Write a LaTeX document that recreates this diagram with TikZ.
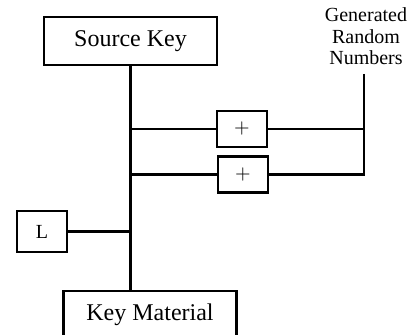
\documentclass[tikz,border=0pt]{standalone}
\usepackage{fontspec}
\setmainfont{Liberation Serif}
\usetikzlibrary{positioning}

\begin{document}
\begin{tikzpicture}[x=0.5pt,y=-0.5pt,
  line width=1.4pt,
  keybox/.style={draw,minimum width=86.5pt,minimum height=24pt,font=\fontsize{12}{14}\selectfont},
  opbox/.style={draw,minimum width=25pt,minimum height=18pt,inner sep=0pt,font=\fontsize{10}{12}\selectfont}]
\useasboundingbox (0,0) rectangle (410,335);
\node[keybox] (srckey) at (130.5,41) {Source Key};
\node[keybox] (keymat) at (150,315) {Key Material};
\node[opbox] (xor1) at (242,129) {$+$};
\node[opbox] (xor2) at (243,174.5) {$+$};
\node[opbox,minimum height=20.5pt] (lfun) at (42,231.5) {L};
\node[align=center,inner sep=0pt,font=\fontsize{10}{10.75}\selectfont] (rng) at (366,36.5) {Generated\\Random\\Numbers};
\coordinate (rngtop) at (364,74);
% trunk and branches
\draw (srckey.south) -- (srckey.south |- keymat.north);
\draw (xor1.west) -- (xor1.west -| srckey.south);
\draw (xor2.west) -- (xor2.west -| srckey.south);
\draw (lfun.east) -- (lfun.east -| srckey.south);
\draw (xor1.east) -- (xor1.east -| rngtop);
\draw (rngtop) |- (xor2.east);
\end{tikzpicture}
\end{document}
